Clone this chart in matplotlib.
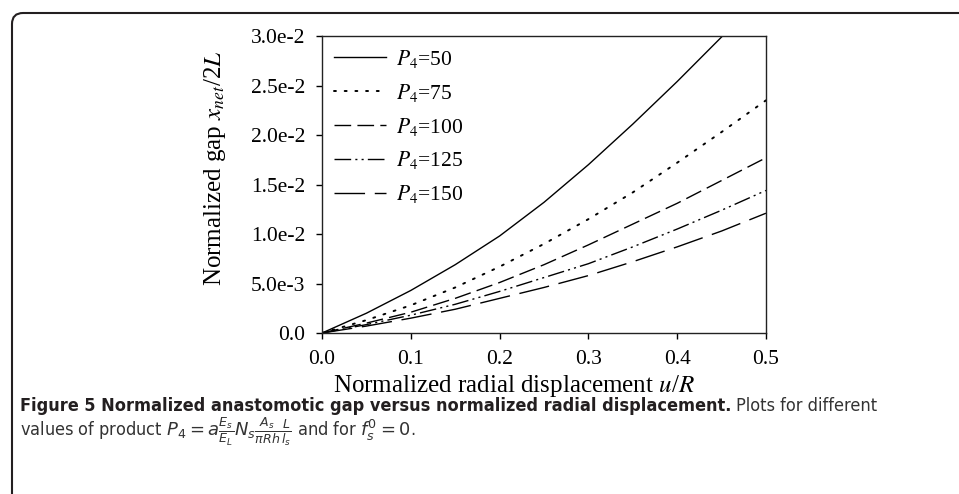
import matplotlib
matplotlib.use("Agg")
import matplotlib.pyplot as plt
from matplotlib.patches import FancyBboxPatch
from matplotlib.transforms import IdentityTransform

plt.rcParams.update({
    "font.family": ["Liberation Serif", "DejaVu Serif"],
    "mathtext.fontset": "stix",
    "axes.linewidth": 1.0,
})

# normalized radial displacement u/R
u = [0.0, 0.05, 0.1, 0.15, 0.2, 0.25, 0.3, 0.35, 0.4, 0.45, 0.5]

# normalized gap x_net/2L, in units of 1e-2
gap_p50 = [0.0, 0.20, 0.43, 0.69, 0.98, 1.32, 1.70, 2.11, 2.54, 2.99, 3.45]
gap_p75 = [0.0, 0.13, 0.28, 0.46, 0.67, 0.90, 1.15, 1.42, 1.72, 2.03, 2.35]
gap_p100 = [0.0, 0.10, 0.21, 0.35, 0.51, 0.69, 0.89, 1.10, 1.31, 1.54, 1.77]
gap_p125 = [0.0, 0.085, 0.18, 0.29, 0.42, 0.56, 0.70, 0.87, 1.05, 1.24, 1.44]
gap_p150 = [0.0, 0.07, 0.15, 0.24, 0.35, 0.46, 0.58, 0.72, 0.87, 1.03, 1.21]

labels = ["$P_4$=50", "$P_4$=75", "$P_4$=100", "$P_4$=125", "$P_4$=150"]
styles = ["-", (0, (1, 4.5)), (0, (12, 4.5)), (0, (12, 3, 1.5, 3, 1.5, 3)), (0, (22, 7))]
widths = [1.0, 1.4, 1.0, 1.0, 1.0]

x_ticks = [0.0, 0.1, 0.2, 0.3, 0.4, 0.5]
x_tick_labels = ["0.0", "0.1", "0.2", "0.3", "0.4", "0.5"]
y_ticks = [0.0, 0.5, 1.0, 1.5, 2.0, 2.5, 3.0]
y_tick_labels = ["0.0", "5.0e-3", "1.0e-2", "1.5e-2", "2.0e-2", "2.5e-2", "3.0e-2"]

fig = plt.figure(figsize=(9.59, 4.94), dpi=100)
ax = fig.add_axes([0.3358, 0.3259, 0.4629, 0.6012])

series = [gap_p50, gap_p75, gap_p100, gap_p125, gap_p150]
for vals, lab, ls, lw in zip(series, labels, styles, widths):
    ax.plot(u, vals, color="black", lw=lw, linestyle=ls, label=lab,
            dash_capstyle="round" if lw > 1 else "butt")

ax.set_xlim(0, 0.5)
ax.set_ylim(0, 3.0)
ax.set_xticks(x_ticks)
ax.set_xticklabels(x_tick_labels)
ax.set_yticks(y_ticks)
ax.set_yticklabels(y_tick_labels)
ax.tick_params(direction="out", length=4, width=1.0, labelsize=15.5, pad=8)
for s in ax.spines.values():
    s.set_color("#222222")

ax.set_xlabel("Normalized radial displacement $u$/$R$", fontsize=18)
ax.xaxis.set_label_coords(0.432, -0.135)
ax.set_ylabel("Normalized gap $x_{net}$/2$L$", fontsize=18)
ax.yaxis.set_label_coords(-0.212, 0.556)

leg = ax.legend(loc="upper left", frameon=False, fontsize=15.5, handlelength=2.4,
                labelspacing=0.55, borderaxespad=0.35, borderpad=0.2,
                handletextpad=0.5)

# page frame with rounded top-left corner (display pixels)
frame = FancyBboxPatch((12, -60), 1100, 494 - 13 + 60,
                       boxstyle="round,pad=0,rounding_size=11",
                       transform=IdentityTransform(), fill=False,
                       edgecolor="#231f20", lw=1.5, clip_on=False)
fig.patches.append(frame)

cap_font = ["DejaVu Sans"]
t1 = fig.text(20 / 959, 1 - 406 / 494,
              "Figure 5 Normalized anastomotic gap versus normalized radial displacement.",
              fontsize=13, fontweight="bold", family=cap_font, fontstretch="condensed",
              color="#231f20", va="center", ha="left")
fig.canvas.draw()
bb = t1.get_window_extent(fig.canvas.get_renderer())
fig.text(bb.x1 / 959 + 0.005, 1 - 406 / 494, "Plots for different",
         fontsize=13, family=cap_font, fontstretch="condensed", color="#333333",
         va="center", ha="left")
fig.text(20 / 959, 1 - 432 / 494,
         r"values of product $P_4 = a\frac{E_s}{E_L}N_s\frac{A_s}{\pi Rh}\frac{L}{l_s}$"
         r" and for $f_s^0 = 0$.",
         fontsize=13, family=cap_font, fontstretch="condensed", color="#333333",
         math_fontfamily="dejavusans", va="center", ha="left")

fig.savefig("out.png", dpi=100)
